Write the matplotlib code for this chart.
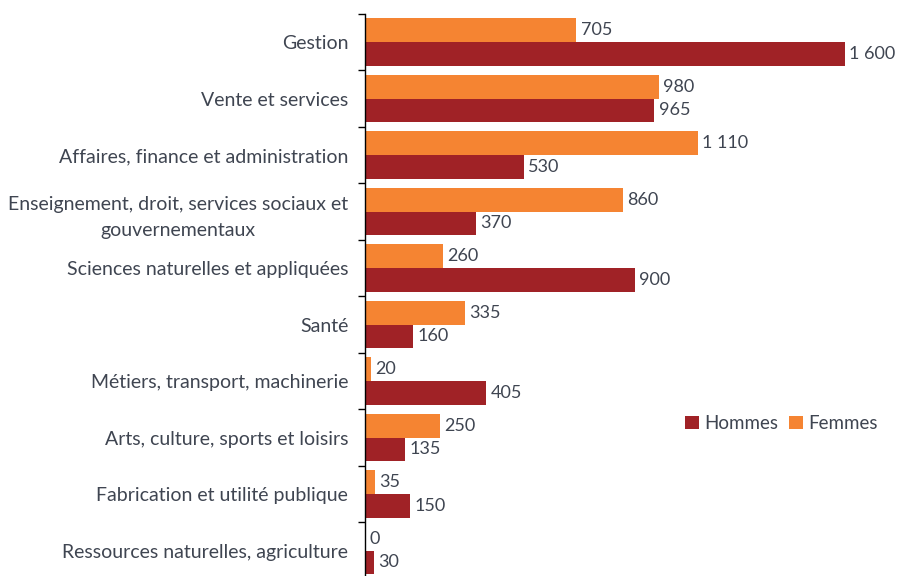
import matplotlib.pyplot as plt
import numpy as np

categories = ["Gestion", "Vente et services", "Affaires, finance et administration",
              "Enseignement, droit, services sociaux et\ngouvernementaux",
              "Sciences naturelles et appliquées", "Santé",
              "Métiers, transport, machinerie", "Arts, culture, sports et loisirs",
              "Fabrication et utilité publique", "Ressources naturelles, agriculture"]
femmes = [705, 980, 1110, 860, 260, 335, 20, 250, 35, 0]
hommes = [1600, 965, 530, 370, 900, 160, 405, 135, 150, 30]

plt.rcParams['font.family'] = ['Lato', 'DejaVu Sans']
TXT = "#3F4551"
C_F = "#F58432"
C_H = "#A02226"

fig = plt.figure(figsize=(8.99, 5.76), dpi=100)
ax = fig.add_axes([0.406, -0.005, 0.594, 0.981])

y = np.arange(len(categories))
h = 0.42
ax.barh(y - h / 2, femmes, height=h, color=C_F, label="Femmes")
ax.barh(y + h / 2, hommes, height=h, color=C_H, label="Hommes")


def fmt(v):
    return f"{v:,}".replace(",", " ")


for yi, f, m in zip(y, femmes, hommes):
    ax.annotate(fmt(f), (f, yi - h / 2), xytext=(3, 0), textcoords="offset points",
                va="center", ha="left", fontsize=13, color=TXT)
    ax.annotate(fmt(m), (m, yi + h / 2), xytext=(3, 0), textcoords="offset points",
                va="center", ha="left", fontsize=13, color=TXT)

ax.set_ylim(len(categories) - 0.5, -0.5)
ax.set_xlim(0, 1780)
ax.set_yticks(y)
ax.set_yticklabels(categories, fontsize=14, color=TXT, ha="right",
                   multialignment="center", linespacing=1.65)
ax.tick_params(axis="y", which="major", length=0, pad=12)
ax.set_yticks(np.arange(len(categories) + 1) - 0.5, minor=True)
ax.tick_params(axis="y", which="minor", length=5, direction="out", width=1)
ax.set_xticks([])
for s in ("top", "right", "bottom"):
    ax.spines[s].set_visible(False)
ax.spines["left"].set_linewidth(1)

handles, labels = ax.get_legend_handles_labels()
ax.legend(handles[::-1], labels[::-1], loc="center", bbox_to_anchor=(0.78, 0.275),
          ncol=2, frameon=False, fontsize=13.5, labelcolor=TXT, handlelength=0.7,
          handleheight=0.7, handletextpad=0.3, columnspacing=0.6)

fig.savefig("out.png", dpi=100)
